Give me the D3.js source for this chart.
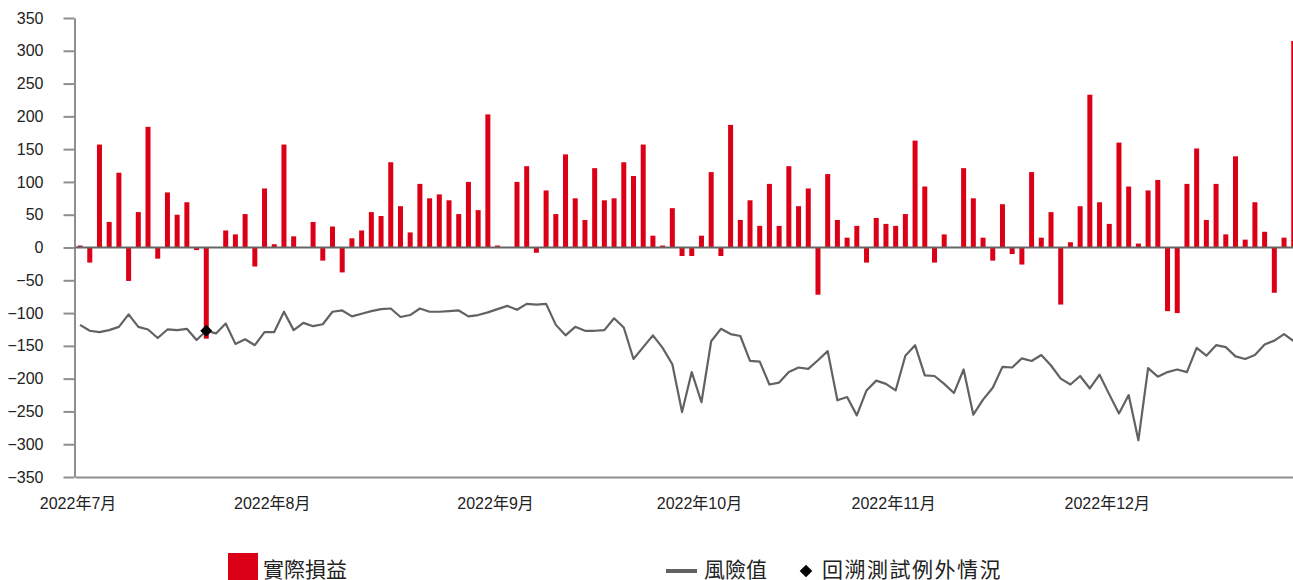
<!DOCTYPE html>
<html>
<head>
<meta charset="utf-8">
<script src="https://cdn.jsdelivr.net/npm/d3@7"></script>
<style>
  body { margin: 0; background: #fff; }
  svg text { font-family: "Liberation Sans", Arial, "Noto Sans CJK TC", sans-serif; }
</style>
</head>
<body>
<svg id="chart" width="1293" height="580"></svg>
<script>
// --- Data ---
const monthLabels = ["2022年7月", "2022年8月", "2022年9月", "2022年10月", "2022年11月", "2022年12月"];
const tradingDaysPerMonth = [20, 23, 21, 20, 22, 20];

// daily actual P&L (實際損益)
const pnl = [
    3, -23, 157, 39, 114, -51, 54, 184, -17, 84,
    50, 69, -4, -139, 0, 26, 20, 51, -29, 90,
    5, 157, 17, 0, 39, -20, 32, -38, 14, 26,
    54, 48, 130, 63, 23, 97, 75, 81, 72, 51,
    100, 57, 203, 3, 0, 100, 124, -8, 87, 51,
    142, 75, 42, 121, 72, 75, 130, 109, 157, 18,
    3, 60, -13, -13, 18, 115, -13, 187, 42, 72,
    33, 97, 33, 124, 63, 90, -72, 112, 42, 15,
    33, -23, 45, 36, 33, 51, 163, 93, -23, 20,
    0, 121, 75, 15, -20, 66, -10, -26, 115, 15,
    54, -87, 8, 63, 233, 69, 36, 160, 93, 6,
    87, 103, -97, -100, 97, 151, 42, 97, 20, 139,
    12, 69, 24, -69, 15, 315
];

// daily value at risk (風險值)
const varValues = [
    -118, -127, -129, -126, -121, -102, -121, -125, -138, -125,
    -126, -124, -141, -127, -131, -116, -147, -140, -149, -129,
    -129, -98, -126, -115, -120, -117, -98, -96, -105, -101,
    -97, -94, -93, -106, -103, -93, -98, -98, -97, -96,
    -105, -103, -99, -94, -89, -95, -86, -87, -86, -118,
    -134, -121, -127, -127, -126, -108, -122, -170, -152, -134,
    -153, -178, -251, -190, -236, -143, -124, -132, -135, -173,
    -174, -209, -206, -190, -183, -185, -172, -158, -233, -228,
    -256, -218, -203, -208, -218, -165, -149, -195, -196, -208,
    -222, -186, -255, -232, -214, -182, -183, -169, -173, -164,
    -180, -200, -209, -196, -215, -194, -224, -253, -225, -294,
    -184, -197, -190, -186, -190, -153, -165, -149, -152, -166,
    -170, -164, -148, -142, -132, -143
];

// backtesting exceptions (回溯測試例外情況), by day index
const exceptionDays = [13];

const yTicks = [350, 300, 250, 200, 150, 100, 50, 0, -50, -100, -150, -200, -250, -300, -350];

// --- Categories: one per trading day ---
const days = [];
const monthStarts = [];
monthLabels.forEach((m, mi) => {
    monthStarts.push(days.length);
    for (let d = 0; d < tradingDaysPerMonth[mi]; d++) days.push(days.length);
});

// --- Layout ---
const svg = d3.select("#chart");
const plotLeft = 75.2, plotRight = 1298.6, plotTop = 18, plotBottom = 477;

const x = d3.scaleBand().domain(days).range([plotLeft, plotRight]).padding(0);
const y = d3.scaleLinear().domain([-350, 350]).range([plotBottom, plotTop]);
const cx = i => x(i) + x.bandwidth() / 2;
const barW = 5;

const textColor = "#222";
const axisColor = "#8e8e8e";
const red = "#dc0017";
const grey = "#626262";

// Y axis
const yAxis = svg.append("g")
    .attr("transform", `translate(${plotLeft - 0.7},0)`)
    .call(d3.axisLeft(y).tickValues(yTicks).tickSize(11).tickSizeOuter(0).tickPadding(20));
yAxis.selectAll("path, line").attr("stroke", axisColor).attr("stroke-width", 2);
yAxis.selectAll("text").attr("font-size", 16).attr("fill", textColor);

// bottom axis line + month labels
const xAxis = svg.append("g")
    .attr("transform", `translate(0,${plotBottom})`)
    .call(d3.axisBottom(x).tickValues(monthStarts).tickSize(0).tickPadding(21)
        .tickFormat(i => monthLabels[monthStarts.indexOf(i)]));
xAxis.select(".domain").attr("stroke", axisColor).attr("stroke-width", 2);
xAxis.selectAll("text").attr("font-size", 16).attr("fill", textColor).attr("dx", -2);

// Bars
svg.append("g")
    .selectAll("rect")
    .data(pnl)
    .join("rect")
    .attr("x", (d, i) => cx(i) - barW / 2)
    .attr("y", d => y(Math.max(0, d)))
    .attr("width", barW)
    .attr("height", d => Math.abs(y(d) - y(0)))
    .attr("fill", red);

// zero line
svg.append("line")
    .attr("x1", plotLeft).attr("x2", plotRight)
    .attr("y1", y(0)).attr("y2", y(0))
    .attr("stroke", "#666").attr("stroke-width", 2);

// VaR line
const line = d3.line().x((d, i) => cx(i)).y(d => y(d));
svg.append("path")
    .datum(varValues)
    .attr("d", line)
    .attr("fill", "none")
    .attr("stroke", grey)
    .attr("stroke-width", 2.2)
    .attr("stroke-linejoin", "round");

// exception markers
const diamond = d3.symbol(d3.symbolSquare, 72);
svg.append("g")
    .selectAll("path")
    .data(exceptionDays)
    .join("path")
    .attr("d", diamond)
    .attr("transform", i => `translate(${cx(i)},${y(varValues[i])}) rotate(45)`)
    .attr("fill", "#000");

// --- Legend ---
const legend = svg.append("g").attr("font-family", '"Noto Sans CJK TC", sans-serif');
legend.append("rect").attr("x", 228).attr("y", 553).attr("width", 30).attr("height", 30).attr("fill", red);
legend.append("text").attr("x", 263).attr("y", 577).attr("font-size", 21).attr("fill", textColor).text("實際損益");

legend.append("line").attr("x1", 666).attr("x2", 697).attr("y1", 571).attr("y2", 571)
    .attr("stroke", grey).attr("stroke-width", 4);
legend.append("text").attr("x", 704).attr("y", 577).attr("font-size", 21).attr("fill", textColor).text("風險值");

legend.append("path").attr("d", d3.symbol(d3.symbolSquare, 80))
    .attr("transform", "translate(806,571) rotate(45)").attr("fill", "#000");
legend.append("text").attr("x", 822).attr("y", 577).attr("font-size", 21).attr("fill", textColor)
    .attr("letter-spacing", 1.5).text("回溯測試例外情況");
</script>
</body>
</html>
